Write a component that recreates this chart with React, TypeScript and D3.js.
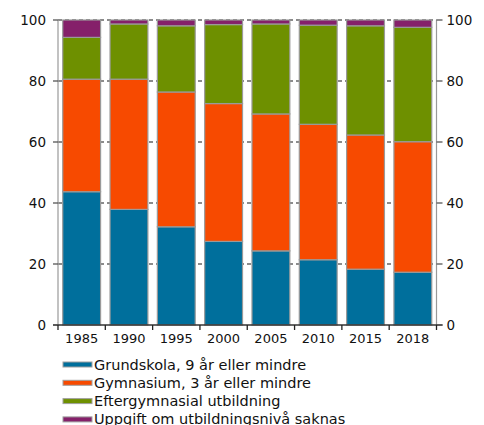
import React from "react";
import * as d3 from "d3";

const years = ["1985", "1990", "1995", "2000", "2005", "2010", "2015", "2018"];
const grundskola = [43.7, 37.9, 32.2, 27.4, 24.3, 21.4, 18.3, 17.3];
const gymnasium = [36.9, 42.7, 44.2, 45.2, 44.9, 44.4, 44.0, 42.8];
const eftergymnasial = [13.7, 18.1, 21.7, 25.9, 29.5, 32.5, 35.8, 37.5];
const saknas = [5.7, 1.3, 1.9, 1.5, 1.3, 1.7, 1.9, 2.4];
const seriesNames = [
  "Grundskola, 9 år eller mindre",
  "Gymnasium, 3 år eller mindre",
  "Eftergymnasial utbildning",
  "Uppgift om utbildningsnivå saknas",
];
const colors = ["#006f9c", "#f74a00", "#6e9000", "#85206a"];
const yTicks = [0, 20, 40, 60, 80, 100];

export default function App() {
  const W = 484, H = 425;
  const left = 58, right = 436.5, top = 20, bottom = 325;
  const x = d3.scaleBand<string>().domain(years).range([left, right]).paddingInner(0.2).paddingOuter(0.1);
  const y = d3.scaleLinear().domain([0, 100]).range([bottom, top]);
  const seriesData = [grundskola, gymnasium, eftergymnasial, saknas];
  const rows = years.map((yr, i) => {
    const o: any = { year: yr };
    seriesData.forEach((s, k) => (o["s" + k] = s[i]));
    return o;
  });
  const stack = d3.stack<any>().keys(["s0", "s1", "s2", "s3"])(rows);
  const step = x.step();
  const bounds = years.map((_, i) => left + i * step).concat([right]);
  const font = "Verdana, 'DejaVu Sans', sans-serif";
  return (
    <svg width={W} height={H} style={{ position: "absolute", left: 0, top: 0 }} fontFamily={font}>
      {yTicks.filter((t) => t > 0).map((t) => (
        <line key={"g" + t} x1={left} x2={right} y1={y(t)} y2={y(t)} stroke="#666" strokeWidth={1.3} strokeDasharray="4,3" />
      ))}
      {stack.map((layer, k) => (
        <g key={k}>
          {layer.map((d, i) => (
            <rect
              key={i}
              x={x(years[i])!}
              width={x.bandwidth()}
              y={y(d[1])}
              height={y(d[0]) - y(d[1])}
              fill={colors[k]}
              stroke="#9a9a9a"
              strokeWidth={1.2}
            />
          ))}
        </g>
      ))}
      <line x1={left} x2={left} y1={top} y2={bottom} stroke="#999" strokeWidth={1.2} />
      <line x1={right} x2={right} y1={top} y2={bottom} stroke="#999" strokeWidth={1.2} />
      <line x1={left - 5} x2={right + 6} y1={bottom} y2={bottom} stroke="#333" strokeWidth={1.3} />
      {yTicks.map((t) => (
        <g key={"t" + t}>
          <line x1={left - 5} x2={left} y1={y(t)} y2={y(t)} stroke="#555" strokeWidth={1.3} />
          <line x1={right} x2={right + 6} y1={y(t)} y2={y(t)} stroke="#555" strokeWidth={1.3} />
          <text x={left - 12} y={y(t)} dy="0.35em" textAnchor="end" fontSize={13.5} fill="#111">{t}</text>
          <text x={right + 10} y={y(t)} dy="0.35em" textAnchor="start" fontSize={13.5} fill="#111">{t}</text>
        </g>
      ))}
      {bounds.map((b, i) => (
        <line key={"b" + i} x1={b} x2={b} y1={bottom} y2={bottom + 5} stroke="#222" strokeWidth={1.3} />
      ))}
      {years.map((yr) => (
        <text key={yr} x={x(yr)! + x.bandwidth() / 2} y={343} textAnchor="middle" fontSize={13} fill="#111">{yr}</text>
      ))}
      {seriesNames.map((n, k) => {
        const cy = 364.5 + k * 18.3;
        return (
          <g key={n}>
            <rect x={63} y={cy - 2.5} width={29} height={5} fill={colors[k]} stroke="#a0a0a0" strokeWidth={1} />
            <text x={94} y={cy} dy="0.35em" fontSize={14.5} fill="#111">{n}</text>
          </g>
        );
      })}
    </svg>
  );
}
